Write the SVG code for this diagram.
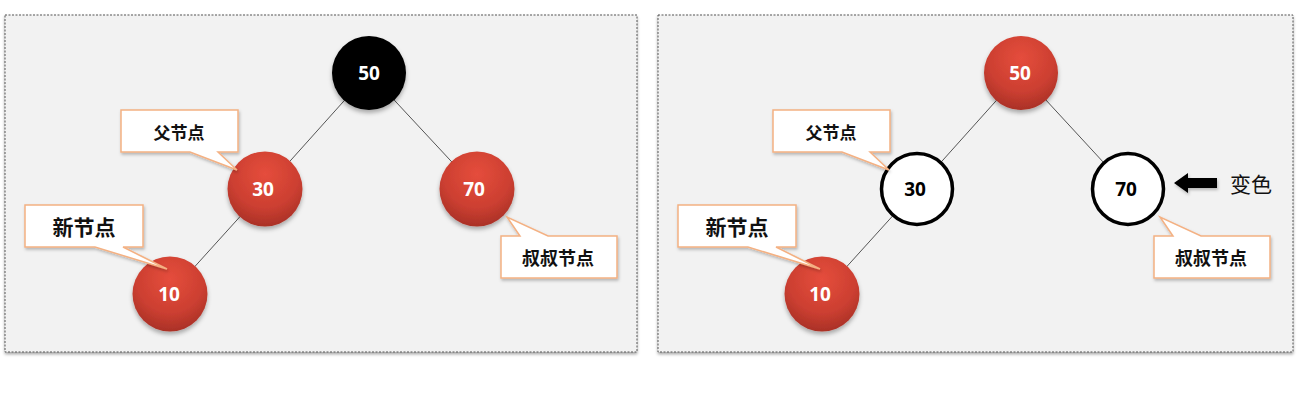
<svg xmlns="http://www.w3.org/2000/svg" width="1300" height="404" viewBox="0 0 1300 404">
<defs>
  <radialGradient id="red" cx="50%" cy="30%" r="75%">
    <stop offset="0" stop-color="#e54d3c"/>
    <stop offset="0.6" stop-color="#cc3f31"/>
    <stop offset="1" stop-color="#a32e25"/>
  </radialGradient>
  <filter id="sh" x="-30%" y="-30%" width="160%" height="170%">
    <feDropShadow dx="0" dy="3" stdDeviation="2" flood-color="#000" flood-opacity="0.3"/>
  </filter>
  <filter id="psh" x="-5%" y="-5%" width="110%" height="115%">
    <feDropShadow dx="0" dy="2" stdDeviation="1.5" flood-color="#000" flood-opacity="0.35"/>
  </filter>
  <filter id="csh" x="-10%" y="-20%" width="120%" height="150%">
    <feDropShadow dx="1" dy="2" stdDeviation="1.5" flood-color="#000" flood-opacity="0.25"/>
  </filter>
</defs>
<style>
  .panel { fill:#f2f2f2; stroke:#555; stroke-width:1; stroke-dasharray:2 1.5; }
  .edge { stroke:#555; stroke-width:1; fill:none; }
  .rn { fill:url(#red); filter:url(#sh); }
  .bn { fill:#050505; filter:url(#sh); }
  .wn { fill:#fff; stroke:#000; stroke-width:3.5; }
  .num { font-family:"Open Sans","Liberation Sans",sans-serif; font-weight:700; font-size:19px; text-anchor:middle; }
  .w { fill:#fff; }
  .k { fill:#000; }
  .call { fill:#fff; stroke:#f4b183; stroke-width:1.5; filter:url(#csh); }
  .ct { font-family:"Noto Sans CJK SC","Liberation Sans",sans-serif; font-weight:700; fill:#111; text-anchor:middle; dominant-baseline:central; }
</style>
<rect width="1300" height="404" fill="#fff"/>
<rect class="panel" x="5" y="15" width="632" height="337" filter="url(#psh)"/>
<rect class="panel" x="658" y="15" width="635" height="337" filter="url(#psh)"/>

<g id="connectors">
  <line class="edge" x1="369" y1="73" x2="265" y2="189"/>
  <line class="edge" x1="369" y1="73" x2="477" y2="189"/>
  <line class="edge" x1="265" y1="189" x2="170" y2="294"/>
  <line class="edge" x1="1021" y1="73" x2="917" y2="189"/>
  <line class="edge" x1="1021" y1="73" x2="1128" y2="189"/>
  <line class="edge" x1="917" y1="189" x2="822" y2="294"/>
</g>

<g id="L-n50"><circle class="bn" cx="369" cy="73" r="37"/><text class="num w" x="369" y="80">50</text></g>
<g id="L-n30"><circle class="rn" cx="265" cy="189" r="37.5"/><text class="num w" x="263" y="196">30</text></g>
<g id="L-n70"><circle class="rn" cx="477" cy="189" r="37.5"/><text class="num w" x="474" y="196">70</text></g>
<g id="L-n10"><circle class="rn" cx="170" cy="294" r="37.5"/><text class="num w" x="169" y="301">10</text></g>

<g id="L-c-parent"><path class="call" d="M121,110 H238 V152 H218 L237,170 L190,152 H121 Z"/><text class="ct" x="179" y="131" font-size="17">父节点</text></g>
<g id="L-c-new"><path class="call" d="M25,205 H143 V247 H123 L167,269 L95,247 H25 Z"/><text class="ct" x="84" y="226" font-size="21">新节点</text></g>
<g id="L-c-uncle"><path class="call" d="M501,236 H520 L507,217 L548,236 H617 V278 H501 Z"/><text class="ct" x="558" y="257" font-size="18">叔叔节点</text></g>

<g id="R-n50"><circle class="rn" cx="1021" cy="73" r="37"/><text class="num w" x="1020" y="80">50</text></g>
<g id="R-n30"><circle class="wn" cx="917" cy="189" r="35.5"/><text class="num k" x="915" y="196">30</text></g>
<g id="R-n70"><circle class="wn" cx="1128" cy="189" r="35.5"/><text class="num k" x="1126" y="196">70</text></g>
<g id="R-n10"><circle class="rn" cx="822" cy="294" r="37.5"/><text class="num w" x="820" y="301">10</text></g>

<g id="R-c-parent"><path class="call" d="M773,110 H890 V152 H870 L889,170 L842,152 H773 Z"/><text class="ct" x="831" y="131" font-size="17">父节点</text></g>
<g id="R-c-new"><path class="call" d="M678,205 H796 V247 H776 L820,269 L748,247 H678 Z"/><text class="ct" x="737" y="226" font-size="21">新节点</text></g>
<g id="R-c-uncle"><path class="call" d="M1154,236 H1173 L1160,217 L1201,236 H1270 V278 H1154 Z"/><text class="ct" x="1211" y="257" font-size="18">叔叔节点</text></g>

<g id="recolor">
  <path d="M1174,183 L1188,173 L1188,178 L1217,178 L1217,188 L1188,188 L1188,193 Z" fill="#000" filter="url(#csh)"/>
  <text x="1230" y="183" font-family="Noto Sans CJK SC,sans-serif" font-size="21" fill="#111" dominant-baseline="central">变色</text>
</g>
</svg>
